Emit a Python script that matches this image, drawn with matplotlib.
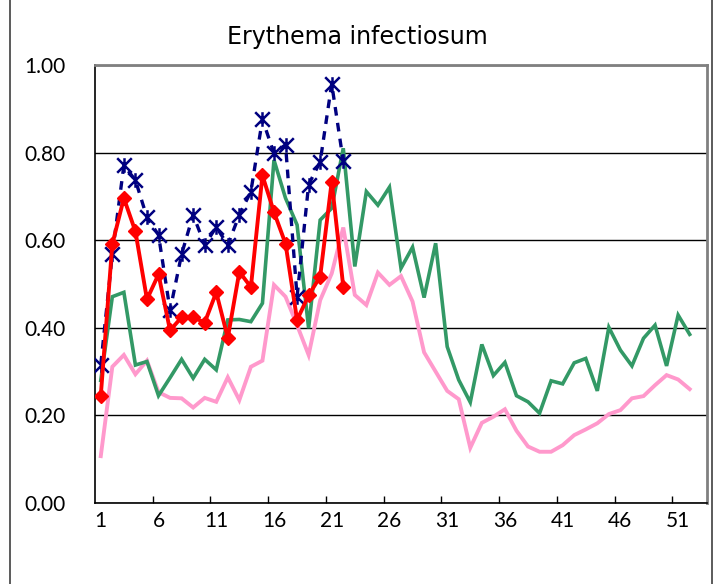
import matplotlib
matplotlib.use("Agg")
import matplotlib.pyplot as plt
from matplotlib.path import Path
from matplotlib.lines import Line2D
import numpy as np

plt.rcParams['font.family'] = ['Lato', 'DejaVu Sans']

title = "Erythema infectiosum"
n_weeks = 53
tick_labels = ["1", "6", "11", "16", "21", "26", "31", "36", "41", "46", "51"]

green = [0.28, 0.471, 0.481, 0.315, 0.323, 0.245, 0.286, 0.328, 0.285, 0.328,
         0.304, 0.418, 0.419, 0.414, 0.456, 0.783, 0.696, 0.635, 0.399, 0.646,
         0.673, 0.810, 0.540, 0.711, 0.680, 0.721, 0.536, 0.584, 0.469, 0.593,
         0.357, 0.281, 0.230, 0.362, 0.291, 0.321, 0.245, 0.231, 0.205, 0.279,
         0.272, 0.320, 0.330, 0.256, 0.401, 0.349, 0.313, 0.376, 0.406, 0.313,
         0.429, 0.385]

pink = [0.107, 0.311, 0.338, 0.294, 0.325, 0.253, 0.240, 0.239, 0.218, 0.240,
        0.231, 0.287, 0.235, 0.311, 0.325, 0.498, 0.471, 0.406, 0.338, 0.463,
        0.524, 0.629, 0.475, 0.452, 0.526, 0.498, 0.518, 0.460, 0.344, 0.300,
        0.256, 0.237, 0.126, 0.183, 0.197, 0.214, 0.165, 0.129, 0.117, 0.117,
        0.132, 0.155, 0.168, 0.182, 0.203, 0.212, 0.239, 0.244, 0.269, 0.292,
        0.282, 0.260]

blue = [0.316, 0.568, 0.771, 0.737, 0.652, 0.612, 0.440, 0.568, 0.658, 0.589,
        0.630, 0.589, 0.658, 0.711, 0.876, 0.798, 0.818, 0.471, 0.727, 0.779,
        0.957, 0.780]

red = [0.245, 0.591, 0.696, 0.620, 0.465, 0.522, 0.394, 0.424, 0.424, 0.412,
       0.481, 0.377, 0.528, 0.493, 0.748, 0.664, 0.592, 0.418, 0.474, 0.517,
       0.734, 0.494]

fig = plt.figure(figsize=(7.2, 5.84), dpi=100)
ax = fig.add_axes([95/720, 1-503/584, 612/720, 438/584])

star = Path([(0, -1), (0, 1), (-1, -1), (1, 1), (-1, 1), (1, -1)],
            [Path.MOVETO, Path.LINETO, Path.MOVETO, Path.LINETO, Path.MOVETO, Path.LINETO])

xg = np.arange(1, len(green) + 1)
xp = np.arange(1, len(pink) + 1)
xb = np.arange(1, len(blue) + 1)
xr = np.arange(1, len(red) + 1)

ax.plot(xp, pink, color='#FF99CC', lw=2.8, zorder=3, solid_joinstyle='miter')
ax.plot(xg, green, color='#339966', lw=2.6, zorder=4, solid_joinstyle='miter')
ax.plot(xb, blue, color='#000080', lw=2.4, ls=(0, (2.6, 2.2)), zorder=5,
        marker=star, markersize=10.5, markeredgewidth=1.8, markerfacecolor='none',
        markeredgecolor='#000080')
ax.plot(xr, red, color='#FF0000', lw=2.8, zorder=6, marker='D', markersize=7.5,
        markeredgecolor='#FF0000', markerfacecolor='#FF0000')

ax.set_xlim(0.5, n_weeks + 0.5)
ax.set_ylim(0, 1.0)
ax.set_yticks(np.arange(0, 1.01, 0.2))
ax.set_yticklabels([f"{v:.2f}" for v in np.arange(0, 1.01, 0.2)], fontsize=15)
ax.tick_params(axis='y', length=0, pad=21)
ax.yaxis.grid(True, color='#000000', lw=1.0)
ax.set_axisbelow(True)

ax.set_xticks([1 + 5 * i for i in range(len(tick_labels))])
ax.set_xticklabels(tick_labels, fontsize=15)
ax.tick_params(axis='x', length=0, pad=6)
ax.set_xticks([5.5 + 5 * i for i in range(10)], minor=True)
ax.tick_params(axis='x', which='minor', direction='in', length=5, width=1, color='black')

for s in ['top', 'right']:
    ax.spines[s].set_color('#808080')
    ax.spines[s].set_linewidth(2)
ax.spines['left'].set_color('#000000')
ax.spines['bottom'].set_color('#000000')
ax.spines['left'].set_linewidth(1.2)
ax.spines['bottom'].set_linewidth(1.2)

fig.text(357/720, 1-37/584, title, ha='center', va='center', fontsize=17,
         family=['DejaVu Sans'])

fig.add_artist(Line2D([10/720, 10/720], [0, 1], color='#404040', lw=1.2))
fig.add_artist(Line2D([712/720, 712/720], [0, 1], color='#404040', lw=1.2))

fig.savefig("out.png", dpi=100)
